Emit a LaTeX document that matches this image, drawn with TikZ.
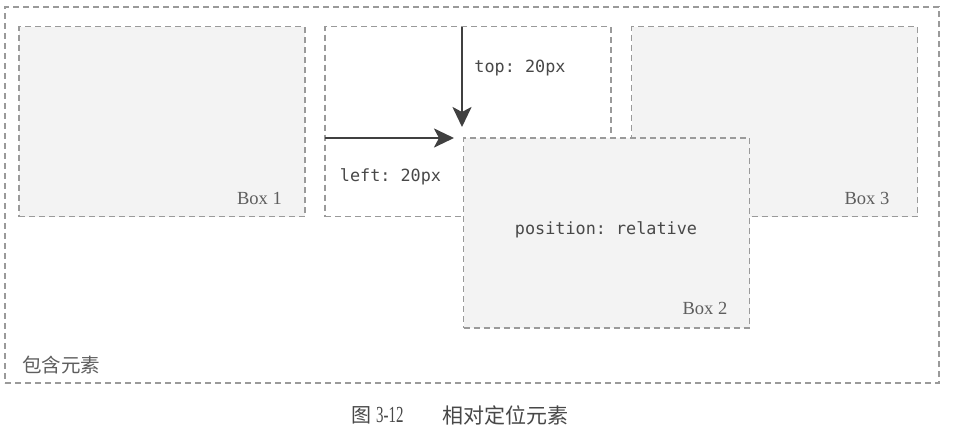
\documentclass[tikz,border=0pt]{standalone}
\usepackage{fontspec}
\setmainfont{Liberation Serif}
\setmonofont{DejaVu Sans Mono}
\newfontfamily\cjk{Noto Sans CJK SC}
\newfontfamily\narrowserif[FakeStretch=0.65]{Liberation Serif}
\usetikzlibrary{arrows.meta}
\definecolor{bordergray}{HTML}{9A9A9A}
\definecolor{boxfill}{HTML}{F3F3F3}
\definecolor{arrowgray}{HTML}{404040}
\definecolor{textgray}{HTML}{484848}
\definecolor{labelgray}{HTML}{5E5E5E}
\tikzset{
  dashedbox/.style={draw=bordergray, line width=1.4pt, dash pattern=on 6pt off 4pt,
    rectangle, inner sep=0pt, minimum width=286pt, minimum height=190pt},
  graybox/.style={dashedbox, fill=boxfill},
  codetxt/.style={inner sep=0pt, text=textgray, font=\ttfamily\fontsize{16.8}{18}\selectfont},
  boxlabel/.style={inner sep=0pt, text=labelgray, font=\fontsize{18.5}{20}\selectfont},
  offsetarrow/.style={draw=arrowgray, line width=2.7pt,
    -{Stealth[length=20pt,width=19pt,inset=5pt]}},
}
\begin{document}
\begin{tikzpicture}[x=1pt,y=-1pt]
  \useasboundingbox[fill=white] (0,0) rectangle (973,440);
  % outer container
  \node[draw=bordergray, line width=1.3pt, dash pattern=on 6pt off 4pt, rectangle,
        inner sep=0pt, minimum width=934pt, minimum height=376pt] (outer) at (472,195) {};
  \node[graybox] (box1) at (162,121.5) {};
  \node[dashedbox] (orig) at (468,121.5) {};
  \node[graybox] (box3) at (774.5,121.5) {};
  \node[graybox] (box2) at (606.5,233) {};
  % labels
  \node[boxlabel] (l1) at (259.5,198) {Box 1};
  \node[boxlabel] (l2) at (705,308) {Box 2};
  \node[boxlabel] (l3) at (867,198) {Box 3};
  \node[codetxt] (pos) at (606,230) {position: relative};
  \node[codetxt] (top) at (520,68) {top: 20px};
  \node[codetxt] (left) at (390.5,177) {left: 20px};
  \node[inner sep=0pt, text=labelgray, font=\cjk\fontsize{19.5}{21}\selectfont] (cont) at (61,365) {包含元素};
  % arrows
  \coordinate (vstart) at (462,27);
  \coordinate (hstart) at (325,138);
  \coordinate (vend) at (462,127);
  \coordinate (hend) at (454,138);
  \draw[offsetarrow] (vstart) -- (vend);
  \draw[offsetarrow] (hstart) -- (hend);
  % caption
  \node[anchor=west, inner sep=0pt, text=textgray, font=\narrowserif\fontsize{23}{24}\selectfont] (cap1) at (351,415) {{\cjk\fontsize{20}{22}\selectfont 图}\hspace{5pt}3-12};
  \node[anchor=west, inner sep=0pt, text=textgray, font=\cjk\fontsize{21}{22}\selectfont] (cap2) at (442,415) {相对定位元素};
\end{tikzpicture}
\end{document}
